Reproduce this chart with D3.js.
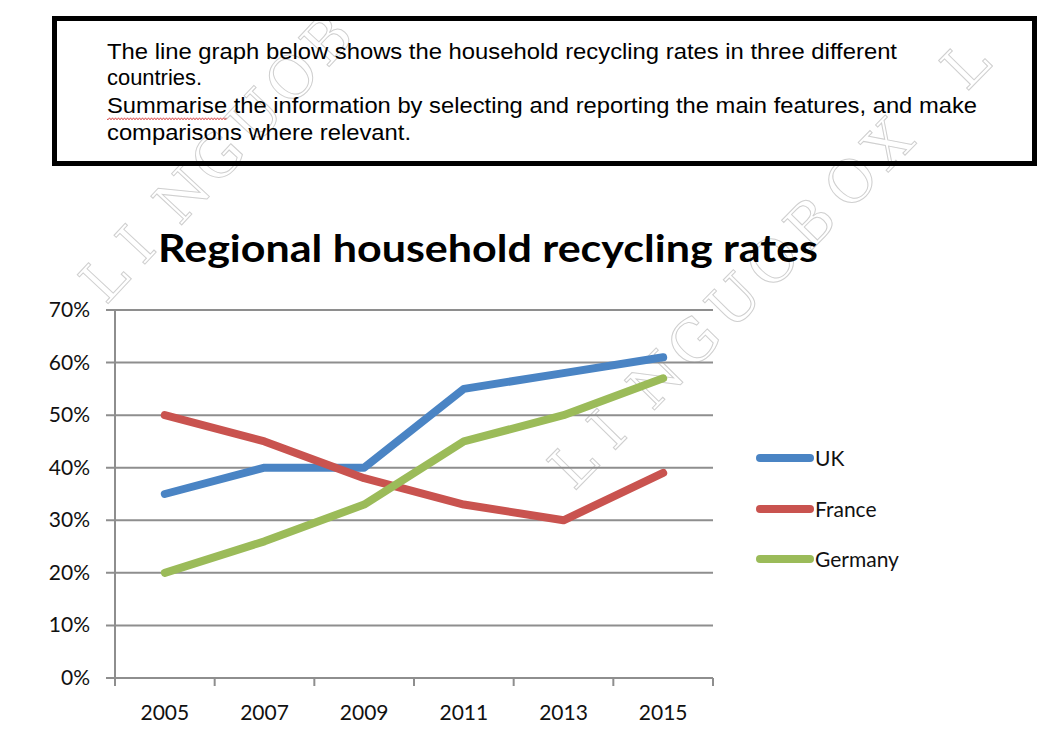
<!DOCTYPE html>
<html><head><meta charset="utf-8">
<script src="https://cdn.jsdelivr.net/npm/d3@7"></script>
<style>body{margin:0;background:#fff}svg{display:block}</style>
</head><body>
<script>
const years = ["2005","2007","2009","2011","2013","2015"];
const ukValues = [35,40,40,55,58,61];
const franceValues = [50,45,38,33,30,39];
const germanyValues = [20,26,33,45,50,57];
const seriesNames = ["UK","France","Germany"];
const seriesColors = ["#4a84c4","#c9534f","#9bbb59"];
const yTicks = [0,10,20,30,40,50,60,70];
const promptLines = [
  "The line graph below shows the household recycling rates in three different",
  "countries.",
  "Summarise the information by selecting and reporting the main features, and make",
  "comparisons where relevant."
];
const titleText = "Regional household recycling rates";
const watermarkA = "LINGUOB";
const watermarkB = "LINGUOBOX L";

const W = 1060, H = 745;
const svg = d3.select("body").append("svg").attr("width", W).attr("height", H);

// watermark (individual outlined letters along diagonals)
const wm = svg.append("g").attr("fill","none").attr("stroke","#cfcfcf").attr("stroke-width",1)
  .style("font-family","'DejaVu Serif', serif").style("font-size","58px");
function drawWatermark(str, x0, y0, angle, step){
  const r = angle*Math.PI/180;
  str.split("").forEach((ch,i)=>{
    if (ch === " ") return;
    const px = x0 + i*step*Math.cos(r), py = y0 + i*step*Math.sin(r);
    wm.append("text").attr("transform",`translate(${px},${py}) rotate(${angle})`).text(ch);
  });
}
drawWatermark(watermarkA, 106, 306, -47, 54);
drawWatermark(watermarkB, 574, 492, -45.5, 56);

// prompt box
svg.append("rect").attr("x",54.5).attr("y",18.5).attr("width",980).attr("height",145)
  .attr("fill","none").attr("stroke","#000").attr("stroke-width",5);
const pt = svg.append("g").style("font-family","'Liberation Sans', Arial, sans-serif").style("font-size","22px").attr("fill","#000");
const baselines = [59, 85, 113, 140];
const lineEnds = [897, 202, 977, 411];
promptLines.forEach((t,i)=>{
  pt.append("text").attr("x",107).attr("y",baselines[i])
    .attr("textLength", lineEnds[i]-107).attr("lengthAdjust","spacingAndGlyphs").text(t);
});
// spell-check squiggle under "Summarise"
svg.append("path").attr("d","M107,119 " + d3.range(108,228,1.5).map((x,i)=>`L${x},${i%2?117.8:119.8}`).join(" "))
  .attr("fill","none").attr("stroke","#d02020").attr("stroke-width",0.8);

// title
const title = svg.append("text").attr("x",158).attr("y",262)
  .style("font-family","Lato, 'Open Sans', sans-serif").style("font-weight","bold").style("font-size","38px")
  .attr("fill","#000").text(titleText);
title.attr("textLength",660).attr("lengthAdjust","spacingAndGlyphs");

// scales
const x = d3.scaleBand().domain(years).range([115,713]);
const y = d3.scaleLinear().domain([0,70]).range([678,310]);

const gridColor = "#8e8e8e";
// gridlines
svg.append("g").selectAll("line").data(yTicks).join("line")
  .attr("x1",106).attr("x2",713).attr("y1",d=>y(d)).attr("y2",d=>y(d))
  .attr("stroke",gridColor).attr("stroke-width",2);
// y axis line
svg.append("line").attr("x1",115).attr("x2",115).attr("y1",y(70)).attr("y2",y(0)+8)
  .attr("stroke",gridColor).attr("stroke-width",2);
// x ticks at band boundaries
const bounds = years.map(d=>x(d)).concat([x.range()[1]]);
svg.append("g").selectAll("line").data(bounds.slice(1)).join("line")
  .attr("x1",d=>d).attr("x2",d=>d).attr("y1",y(0)).attr("y2",y(0)+8)
  .attr("stroke",gridColor).attr("stroke-width",2);

const lab = "Lato, 'Open Sans', sans-serif";
// y labels
svg.append("g").selectAll("text").data(yTicks).join("text")
  .attr("x",90).attr("y",d=>y(d)+7).attr("text-anchor","end")
  .style("font-family",lab).style("font-size","21px").attr("fill","#111")
  .text(d=>d+"%");
// x labels
svg.append("g").selectAll("text").data(years).join("text")
  .attr("x",d=>x(d)+x.bandwidth()/2).attr("y",720).attr("text-anchor","middle")
  .style("font-family",lab).style("font-size","21px").attr("fill","#111")
  .text(d=>d);

// lines
const series = [ukValues, franceValues, germanyValues];
const line = d3.line().x((d,i)=>x(years[i])+x.bandwidth()/2).y(d=>y(d));
series.forEach((vals,i)=>{
  svg.append("path").attr("d",line(vals)).attr("fill","none")
    .attr("stroke",seriesColors[i]).attr("stroke-width",8)
    .attr("stroke-linecap","round").attr("stroke-linejoin","round");
});

// legend
const legY = [458, 509, 559];
seriesNames.forEach((n,i)=>{
  svg.append("line").attr("x1",760).attr("x2",810).attr("y1",legY[i]).attr("y2",legY[i])
    .attr("stroke",seriesColors[i]).attr("stroke-width",8).attr("stroke-linecap","round");
  svg.append("text").attr("x",815).attr("y",legY[i]+8)
    .style("font-family",lab).style("font-size","21px").attr("fill","#111").text(n);
});
</script>
</body></html>
